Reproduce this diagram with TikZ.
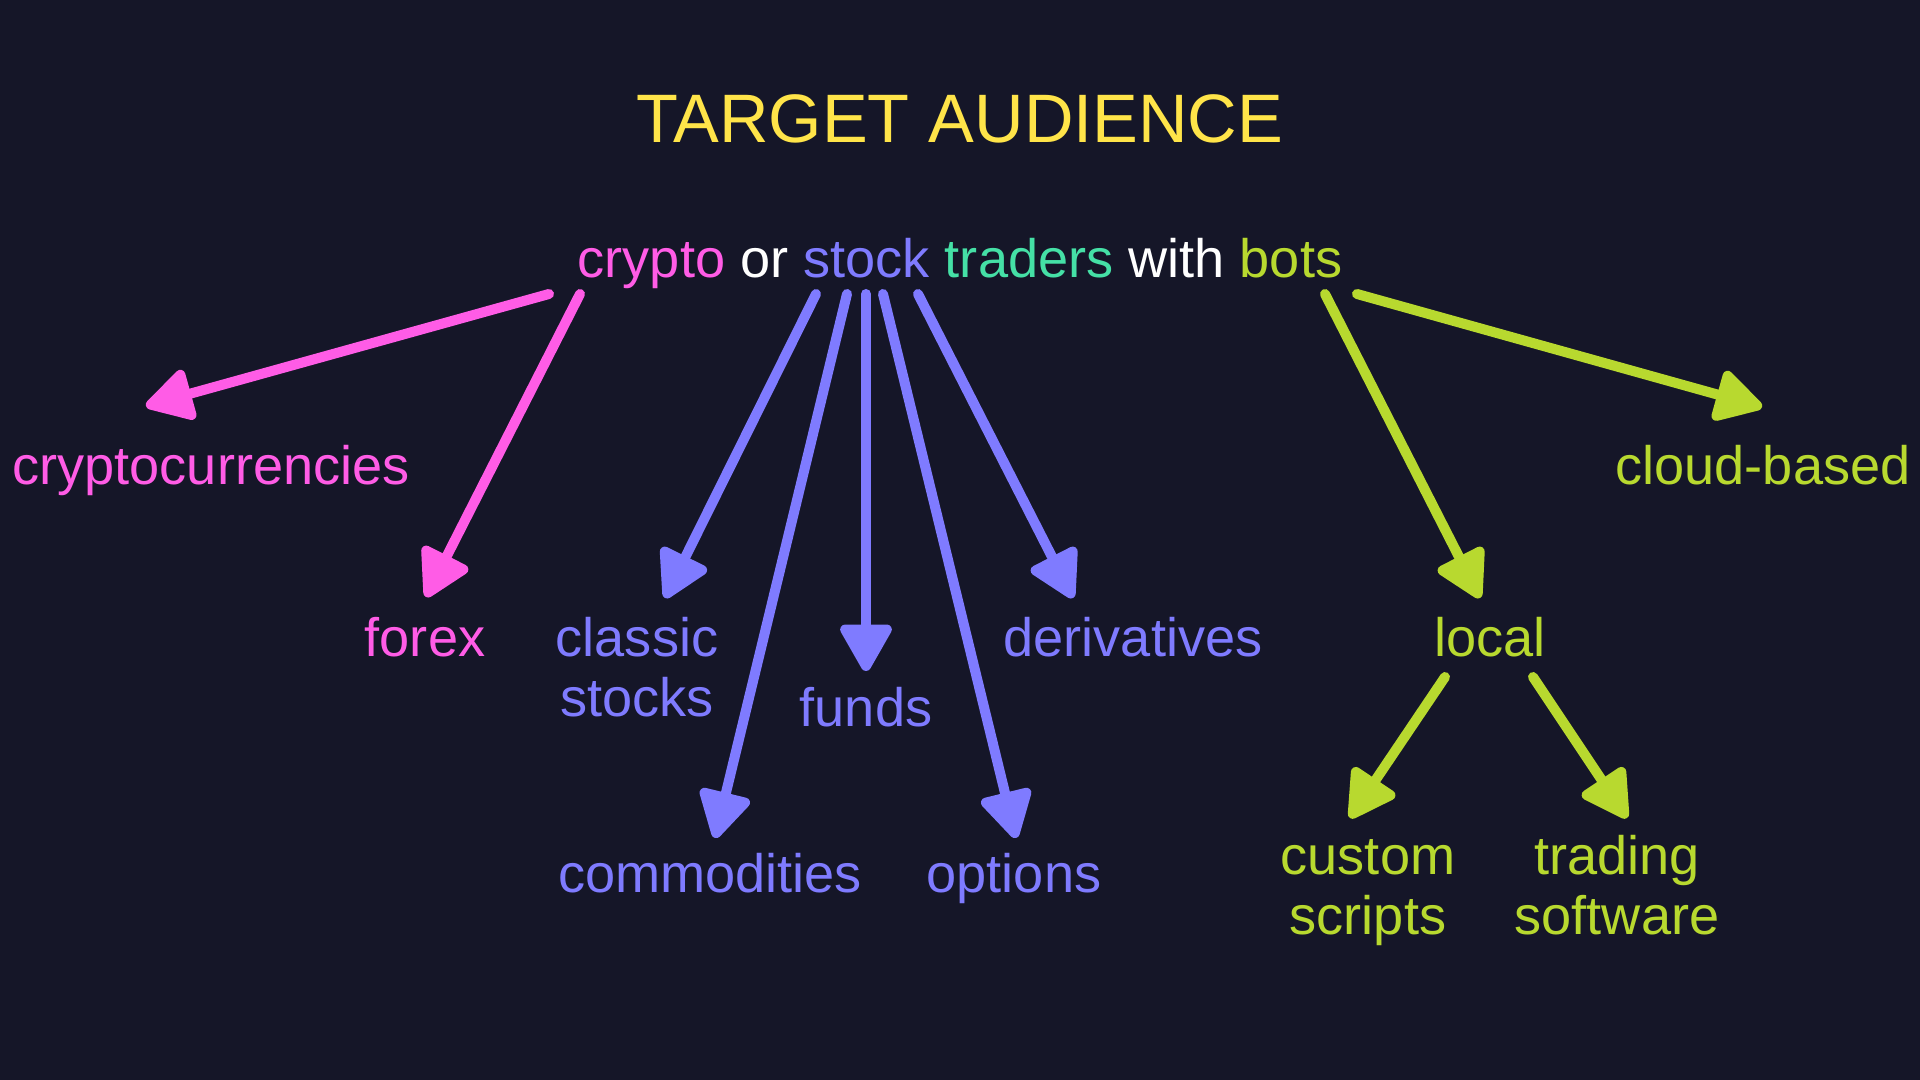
\documentclass[tikz,border=0pt]{standalone}
\usepackage{fontspec}
\setmainfont{Liberation Sans}
\usetikzlibrary{arrows.meta}
\definecolor{bgdark}{HTML}{151628}
\definecolor{pinkc}{HTML}{FF5CE6}
\definecolor{violetc}{HTML}{7F7BFF}
\definecolor{tealc}{HTML}{45E0A6}
\definecolor{limec}{HTML}{B8D92F}
\definecolor{titlec}{HTML}{FFE449}
\tikzset{lbl/.style={anchor=base,inner sep=0pt,align=center,font=\fontsize{15.4pt}{17.1pt}\selectfont}}
\begin{document}
\begin{tikzpicture}[>={Triangle[length=5.2mm,width=5.6mm,round]},x=0.01cm,y=-0.01cm,line width=1mm,line join=round,line cap=round]
	\fill[bgdark] (0,0) rectangle (1920,1080);
	\node[lbl,text=titlec,font=\fontsize{19.5pt}{24pt}\selectfont] (title) at (960,143) {TARGET AUDIENCE};
	\node[lbl,text=white] (head) at (960,278) {\textcolor{pinkc}{crypto} or \textcolor{violetc}{stock} \textcolor{tealc}{traders} with \textcolor{limec}{bots}};
	% markets and setups
	\node[lbl,text=pinkc] (cryptos) at (211,485) {cryptocurrencies};
	\node[lbl,text=pinkc] (forex) at (425,657) {forex};
	\node[lbl,text=violetc] (stocks) at (637,717) {classic\\stocks};
	\node[lbl,text=violetc] (funds) at (866,727) {funds};
	\node[lbl,text=violetc] (deriv) at (1133,657) {derivatives};
	\node[lbl,text=violetc] (commod) at (710,893) {commodities};
	\node[lbl,text=violetc] (options) at (1014,893) {options};
	\node[lbl,text=limec] (local) at (1490,657) {local};
	\node[lbl,text=limec] (cloud) at (1763,485) {cloud-based};
	\node[lbl,text=limec] (scripts) at (1368,935) {custom\\scripts};
	\node[lbl,text=limec] (software) at (1617,935) {trading\\software};
	% arrow ends
	\foreach \n/\x/\y in {c1/549/294,c2/580/294,s1/816/294,s2/847/294,s3/866/294,s4/883/294,s5/918/294,b1/1325/294,b2/1357/294,l1/1445/677,l2/1533/677}
	\coordinate (\n) at (\x,\y);
	\foreach \n/\x/\y in {t-cryptos/146/406,t-forex/426/597,t-stocks/665/598,t-commod/715/838,t-funds/866/671,t-options/1016/838,t-deriv/1073/598,t-local/1480/598,t-cloud/1762/407,t-scripts/1350/818,t-software/1627/818}
	\coordinate (\n) at (\x,\y);
	\foreach \a/\b/\c in {c1/t-cryptos/pinkc,c2/t-forex/pinkc,s1/t-stocks/violetc,s2/t-commod/violetc,s3/t-funds/violetc,s4/t-options/violetc,s5/t-deriv/violetc,b1/t-local/limec,b2/t-cloud/limec,l1/t-scripts/limec,l2/t-software/limec}
	\draw[->,\c] (\a) -- (\b);
\end{tikzpicture}
\end{document}
